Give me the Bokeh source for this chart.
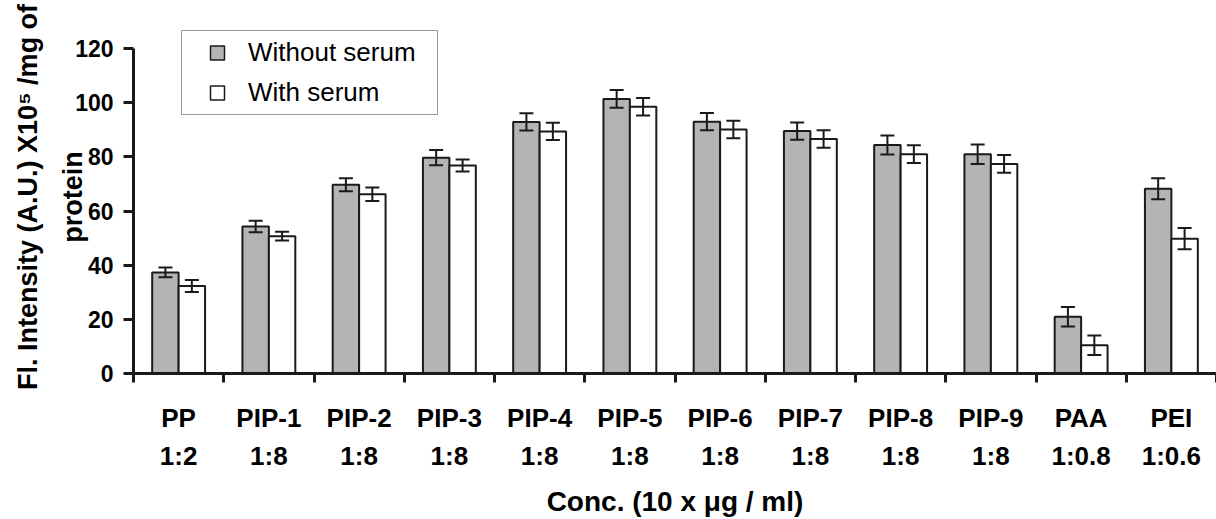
import numpy as np
from bokeh.plotting import figure
from bokeh.models import (ColumnDataSource, Whisker, FixedTicker, LinearAxis, Legend,
                          LegendItem, Range1d, TeeHead, Title)
from bokeh.embed import file_html
from bokeh.resources import INLINE

# ---------------- data ----------------
categories = ["PP", "PIP-1", "PIP-2", "PIP-3", "PIP-4", "PIP-5",
              "PIP-6", "PIP-7", "PIP-8", "PIP-9", "PAA", "PEI"]
ratios = ["1:2", "1:8", "1:8", "1:8", "1:8", "1:8",
          "1:8", "1:8", "1:8", "1:8", "1:0.8", "1:0.6"]
without_serum = [37.3, 54.3, 69.7, 79.7, 92.9, 101.4, 93.0, 89.5, 84.4, 81.0, 21.0, 68.2]
with_serum = [32.3, 50.7, 66.2, 76.8, 89.4, 98.5, 90.1, 86.6, 81.0, 77.4, 10.4, 49.8]
err_without = [1.8, 2.1, 2.4, 2.8, 3.2, 3.3, 3.2, 3.2, 3.5, 3.6, 3.6, 3.9]
err_with = [2.2, 1.6, 2.5, 2.2, 3.2, 3.2, 3.2, 3.2, 3.3, 3.3, 3.6, 3.9]
y_ticks = [0, 20, 40, 60, 80, 100, 120]
y_max = 120

FONT = "Liberation Sans"
GRAY = "#b3b4b6"
DARK = "#1a1a1a"

n = len(categories)
centers = np.arange(n) + 0.5
bar_w = 0.293

wo = np.array(without_serum)
w = np.array(with_serum)
src_wo = ColumnDataSource(dict(x=centers - bar_w / 2, top=wo,
                               upper=wo + np.array(err_without), lower=wo - np.array(err_without)))
src_w = ColumnDataSource(dict(x=centers + bar_w / 2, top=w,
                              upper=w + np.array(err_with), lower=w - np.array(err_with)))

# frame spans 20..373 px; the value axis (0..120) occupies 48..373 px
TOP, BOTTOM, AXIS_TOP = 20, 373, 48
y_end = y_max * (BOTTOM - TOP) / (BOTTOM - AXIS_TOP)

p = figure(width=1216, height=519, x_range=Range1d(0, n), y_range=Range1d(0, y_end),
           output_backend="svg", toolbar_location=None,
           x_axis_location=None, y_axis_location=None,
           min_border_left=133, min_border_right=0, min_border_top=TOP,
           min_border_bottom=519 - BOTTOM)
p.outline_line_color = None
p.xgrid.visible = False
p.ygrid.visible = False
p.background_fill_color = "white"
p.border_fill_color = "white"

# bars
p.vbar(x="x", top="top", bottom=0, width=bar_w, source=src_wo,
       fill_color=GRAY, line_color=DARK, line_width=2)
p.vbar(x="x", top="top", bottom=0, width=bar_w, source=src_w,
       fill_color="white", line_color=DARK, line_width=2)

# error bars
for src in (src_wo, src_w):
    wh = Whisker(base="x", upper="upper", lower="lower", source=src, dimension="height",
                 line_color=DARK, line_width=2, level="annotation",
                 upper_head=TeeHead(size=14, line_color=DARK, line_width=2),
                 lower_head=TeeHead(size=14, line_color=DARK, line_width=2))
    p.add_layout(wh)

# y axis
yax = LinearAxis(ticker=FixedTicker(ticks=y_ticks, minor_ticks=[]), bounds=(0, y_max))
yax.axis_line_width = 3
yax.axis_line_color = DARK
yax.major_tick_out = 10
yax.major_tick_in = 0
yax.major_tick_line_width = 3
yax.major_tick_line_color = DARK
yax.major_label_standoff = 10
yax.major_label_text_font = FONT
yax.major_label_text_font_style = "bold"
yax.major_label_text_font_size = "23px"
yax.major_label_text_color = "black"
yax.axis_label = "protein"
yax.axis_label_standoff = -16
yax.axis_label_text_font = FONT
yax.axis_label_text_font_style = "bold"
yax.axis_label_text_font_size = "27px"
yax.axis_label_text_color = "black"
p.add_layout(yax, "left")

# small spacer between the two lines of the y title
p.add_layout(Title(text=" ", text_font_size="6px", standoff=0), "left")
p.add_layout(Title(text="Fl. Intensity (A.U.) X10\u2075 /mg of", align="center",
                   text_font=FONT, text_font_style="bold", text_font_size="27px",
                   text_color="black", standoff=10), "left")

# x axis: names + boundary ticks
xax = LinearAxis(ticker=FixedTicker(ticks=list(centers), minor_ticks=list(range(n + 1))))
xax.major_label_overrides = {float(c): name for c, name in zip(centers, categories)}
xax.axis_line_width = 3
xax.axis_line_color = DARK
xax.major_tick_out = 0
xax.major_tick_in = 0
xax.major_tick_line_color = None
xax.minor_tick_out = 9
xax.minor_tick_in = 0
xax.minor_tick_line_width = 3
xax.minor_tick_line_color = DARK
xax.major_label_standoff = 20
xax.major_label_text_font = FONT
xax.major_label_text_font_style = "bold"
xax.major_label_text_font_size = "26px"
xax.major_label_text_color = "black"
p.add_layout(xax, "below")

# x axis: ratios + title
xax2 = LinearAxis(ticker=FixedTicker(ticks=list(centers), minor_ticks=[]))
xax2.major_label_overrides = {float(c): r for c, r in zip(centers, ratios)}
xax2.axis_line_color = None
xax2.major_tick_line_color = None
xax2.minor_tick_line_color = None
xax2.major_tick_out = 0
xax2.major_tick_in = 0
xax2.major_label_standoff = 5
xax2.major_label_text_font = FONT
xax2.major_label_text_font_style = "bold"
xax2.major_label_text_font_size = "26px"
xax2.major_label_text_color = "black"
xax2.axis_label = "Conc. (10 x \u03bcg / ml)"
xax2.axis_label_standoff = 12
xax2.axis_label_text_font = FONT
xax2.axis_label_text_font_style = "bold"
xax2.axis_label_text_font_size = "28px"
xax2.axis_label_text_color = "black"
p.add_layout(xax2, "below")

# legend (hidden square markers as legend glyphs)
r1 = p.scatter(x="x", y="top", source=src_wo, marker="square", size=14,
               fill_color=GRAY, line_color=DARK, line_width=1.5, visible=False)
r2 = p.scatter(x="x", y="top", source=src_w, marker="square", size=14,
               fill_color="white", line_color=DARK, line_width=1.5, visible=False)
legend = Legend(items=[LegendItem(label="Without serum", renderers=[r1]),
                       LegendItem(label="With serum", renderers=[r2])],
                location=(48, 258), orientation="vertical",
                padding=4, spacing=5, margin=0,
                glyph_width=62, glyph_height=35, label_standoff=0,
                label_width=185, label_height=35,
                label_text_font=FONT, label_text_font_size="26px",
                label_text_color="black", label_text_baseline="middle",
                border_line_color="#333333", border_line_width=1.5,
                background_fill_color="white", background_fill_alpha=1.0)
p.add_layout(legend)

open("out.html", "w").write(file_html(p, INLINE))
